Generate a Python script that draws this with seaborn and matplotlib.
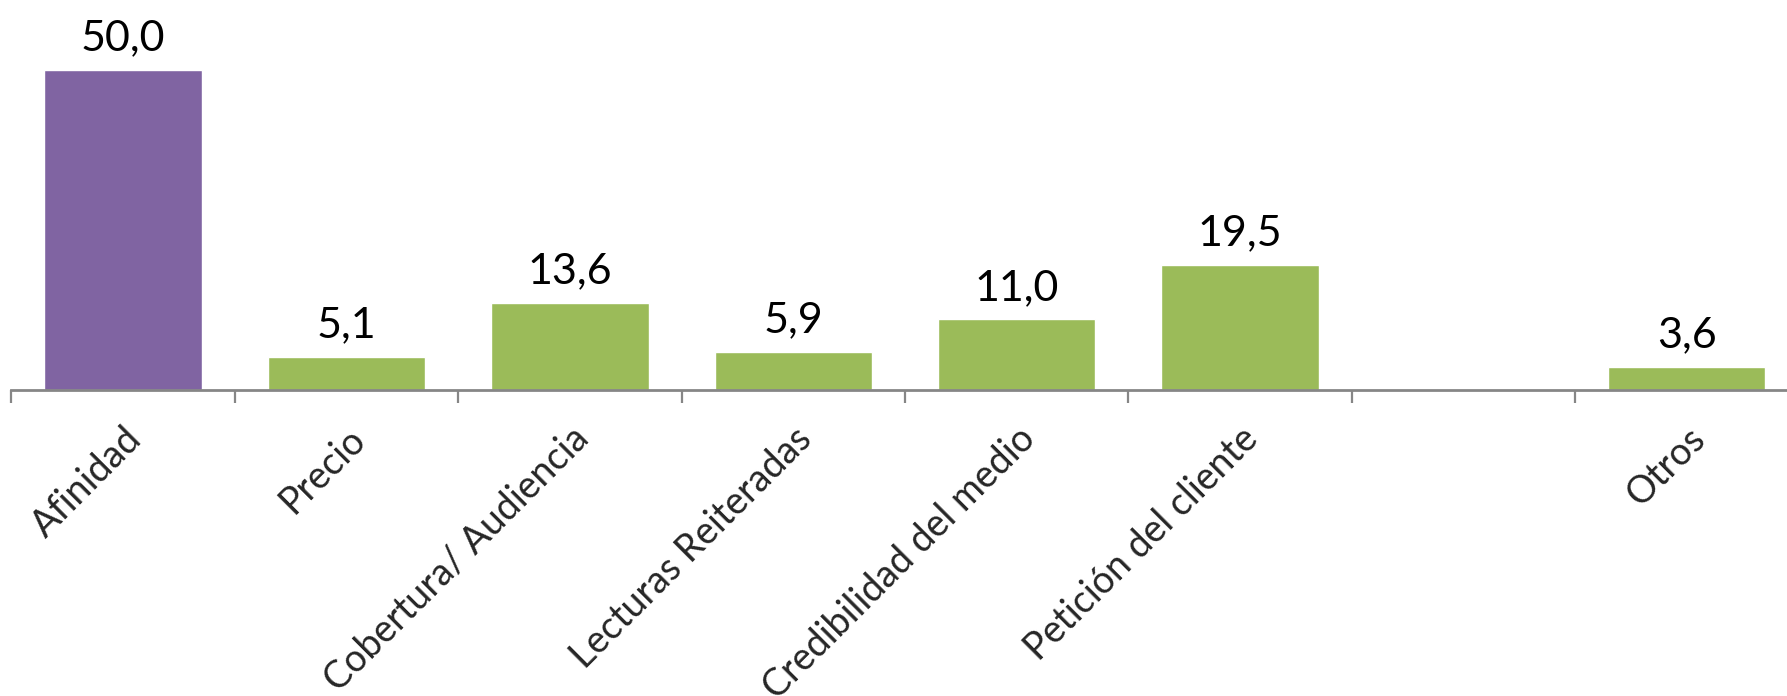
import matplotlib
matplotlib.use("Agg")
import matplotlib.pyplot as plt
import seaborn as sns
import pandas as pd
import numpy as np

# Data
categories = ["Afinidad", "Precio", "Cobertura/ Audiencia", "Lecturas Reiteradas",
              "Credibilidad del medio", "Petición del cliente", " ", "Otros"]
values = [50.0, 5.1, 13.6, 5.9, 11.0, 19.5, np.nan, 3.6]
bar_colors = ["#8064A2", "#9BBB59", "#9BBB59", "#9BBB59",
              "#9BBB59", "#9BBB59", "#9BBB59", "#9BBB59"]

sns.set_style("white")
plt.rcParams["font.family"] = ["Lato", "DejaVu Sans"]

df = pd.DataFrame({"categoria": categories, "valor": values})

fig = plt.figure(figsize=(17.87, 6.96), dpi=100)
ax = fig.add_axes([0.0064, 0.44, 1.0, 0.506])

sns.barplot(data=df, x="categoria", y="valor", hue="categoria",
            palette=bar_colors, order=categories, legend=False,
            width=0.705, saturation=1, ax=ax)

for container, v in zip(ax.containers, values):
    if np.isnan(v):
        continue
    ax.bar_label(container, labels=[f"{v:.1f}".replace(".", ",")],
                 padding=9, fontsize=31, color="black", clip_on=False)

ax.set_ylim(0, 55)
ax.set_xlim(-0.5, len(categories) - 0.5)
ax.set_xlabel("")
ax.set_ylabel("")
ax.set_yticks([])

for side in ["top", "right", "left"]:
    ax.spines[side].set_visible(False)
ax.spines["bottom"].set_color("#868686")
ax.spines["bottom"].set_linewidth(2)

# boundary ticks between categories, labels centered
ax.set_xticks(np.arange(-0.5, len(categories) - 0.5, 1.0), minor=False)
ax.set_xticklabels([])
ax.tick_params(axis="x", which="major", length=9, width=1.6, color="#868686",
               direction="out", bottom=True)
ax.set_xticks(np.arange(len(categories)), minor=True)
ax.set_xticklabels(categories, minor=True, rotation=45, ha="right",
                   rotation_mode="anchor", fontsize=27)
ax.tick_params(axis="x", which="minor", length=0, pad=22)

fig.savefig("out.png", dpi=100)
